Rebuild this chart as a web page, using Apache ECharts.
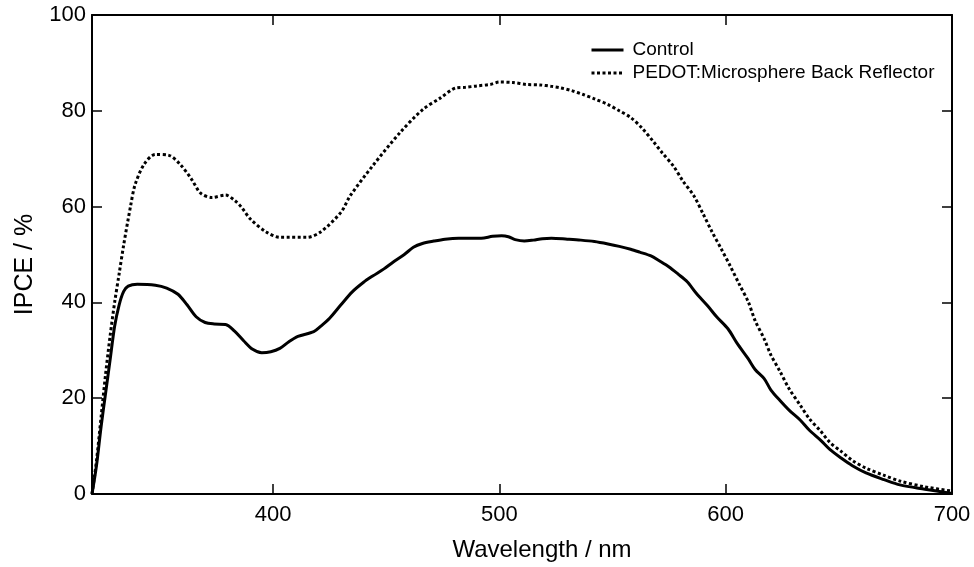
<!DOCTYPE html>
<html>
<head>
<meta charset="utf-8">
<script src="https://cdn.jsdelivr.net/npm/echarts@6/dist/echarts.min.js"></script>
<style>html,body{margin:0;padding:0;background:#fff;}#c{width:974px;height:567px;}</style>
</head>
<body>
<div id="c"></div>
<script>
var seriesNames = ['Control', 'PEDOT:Microsphere Back Reflector'];
var xTitle = 'Wavelength / nm';
var yTitle = 'IPCE / %';

var controlX = [320,322,324,326,328,330,332,334,336,340,348,353,358,362,366,370,374,379,383,387,391,395,399,403,407,411,418,421,425,430,435,440,444,449,453,458,462,466,471,476,482,492,497,501,504,507,511,515,519,523,530,536,542,548,553,558,562,567,571,575,579,583,587,592,596,601,605,610,613,617,620,624,628,633,637,642,646,651,656,662,670,677,688,700];
var controlY = [0,6,14,21,28,35,39.5,42.3,43.4,43.8,43.6,43,41.7,39.5,37,35.8,35.5,35.4,34,32,30.2,29.5,29.7,30.4,31.8,32.9,33.9,35,36.7,39.5,42.2,44.2,45.5,47,48.4,50,51.5,52.3,52.8,53.2,53.4,53.4,53.8,53.9,53.7,53.1,52.8,53,53.3,53.4,53.2,53,52.7,52.2,51.7,51.1,50.5,49.7,48.6,47.4,45.9,44.3,41.9,39.3,37,34.5,31.5,28.2,26,24.1,21.7,19.5,17.5,15.4,13.3,11.2,9.3,7.5,5.9,4.4,3,1.9,1,0.1];

var pedotX = [320,322,324,326,328,330,332,334,337,339,343,348,354,359,364,368,373,379,383,386,390,397,403,415,421,430,434,444,456,466,474,481,485,490,496,500,506,512,518,523,527,532,537,542,548,553,558,563,568,572,577,581,586,590,594,598,602,606,610,613,617,620,624,628,633,637,642,646,651,656,662,670,677,688,700];
var pedotY = [0,7,16,25,33,40,46,52,60,64.5,68.8,70.9,70.7,68.8,65.7,62.8,61.9,62.4,61.3,59.9,57.4,54.7,53.6,53.6,54.7,58.8,62.2,68.5,75.4,80.2,82.7,84.8,84.9,85.2,85.5,86,85.9,85.5,85.4,85.1,84.8,84.2,83.4,82.5,81.3,80,78.6,76.4,73.6,71.2,68.4,65.4,62.2,58.5,54.7,51.2,47.6,43.8,40.1,36.2,32.4,29,25.6,22,18.5,15.7,13.1,10.8,8.9,7,5.4,3.9,2.7,1.5,0.6];

var yTicks = [0, 20, 40, 60, 80, 100];

function pairs(xs, ys) { return xs.map(function (x, i) { return [x, ys[i]]; }); }

var FONT = 'Liberation Sans, Arial, Helvetica, sans-serif';
function axisLine() { return { show: true, onZero: false, lineStyle: { color: '#000', width: 2 } }; }
function tick() { return { show: true, inside: true, length: 10, lineStyle: { color: '#000', width: 1.5 } }; }

var chart = echarts.init(document.getElementById('c'), null, { renderer: 'canvas' });
chart.setOption({
  backgroundColor: '#fff',
  animation: false,
  grid: { left: 92, right: 22, top: 15, bottom: 71, containLabel: false },
  legend: {
    orient: 'vertical',
    left: 585,
    top: 35,
    itemWidth: 32,
    itemHeight: 14,
    itemGap: 3,
    itemStyle: { opacity: 0 },
    lineStyle: { width: 3 },
    textStyle: { fontFamily: FONT, fontSize: 19, color: '#000', lineHeight: 20, padding: [0, 0, 0, 4] },
    data: seriesNames
  },
  xAxis: [{
    type: 'value', min: 320, max: 700, splitNumber: 4, position: 'bottom',
    name: xTitle, nameLocation: 'middle', nameGap: 44,
    nameTextStyle: { fontFamily: FONT, fontSize: 24, color: '#000', padding: [0, 0, 0, 40] },
    axisLine: axisLine(),
    axisTick: tick(),
    axisLabel: { fontFamily: FONT, fontSize: 22, color: '#000', margin: 10, showMinLabel: false,
      formatter: function (v) { return v % 100 === 0 ? String(v) : ''; } },
    splitLine: { show: false }
  }, {
    type: 'value', min: 320, max: 700, splitNumber: 4, position: 'top',
    axisLine: axisLine(),
    axisTick: tick(),
    axisLabel: { show: false },
    splitLine: { show: false }
  }],
  yAxis: [{
    type: 'value', min: yTicks[0], max: yTicks[yTicks.length - 1], interval: 20, position: 'left',
    name: yTitle, nameLocation: 'middle', nameGap: 54,
    nameTextStyle: { fontFamily: FONT, fontSize: 25, color: '#000', padding: [0, 20, 0, 0] },
    axisLine: axisLine(),
    axisTick: tick(),
    axisLabel: { fontFamily: FONT, fontSize: 22, color: '#000', margin: 6 },
    splitLine: { show: false }
  }, {
    type: 'value', min: yTicks[0], max: yTicks[yTicks.length - 1], interval: 20, position: 'right',
    axisLine: axisLine(),
    axisTick: tick(),
    axisLabel: { show: false },
    splitLine: { show: false }
  }],
  series: [{
    name: seriesNames[0], type: 'line', xAxisIndex: 0, yAxisIndex: 0,
    data: pairs(controlX, controlY), smooth: 0.3, symbol: 'none',
    lineStyle: { color: '#000', width: 3, type: 'solid' },
    itemStyle: { color: '#000' }
  }, {
    name: seriesNames[1], type: 'line', xAxisIndex: 0, yAxisIndex: 0,
    data: pairs(pedotX, pedotY), smooth: 0.3, symbol: 'none',
    lineStyle: { color: '#000', width: 3, type: [3, 2.5] },
    itemStyle: { color: '#000' }
  }]
});
</script>
</body>
</html>
